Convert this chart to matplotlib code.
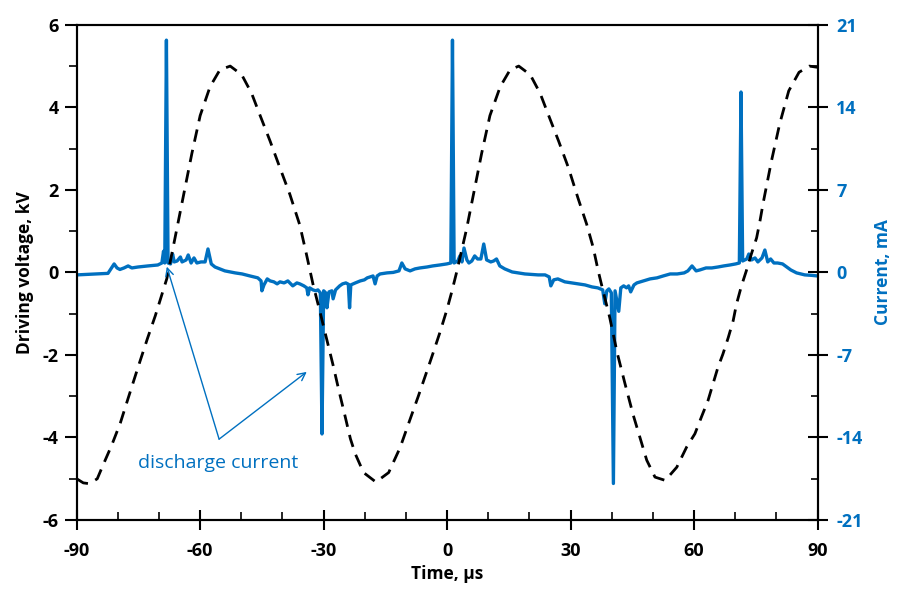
import matplotlib
matplotlib.use('Agg')
import matplotlib.pyplot as plt
from matplotlib.ticker import MultipleLocator

plt.rcParams['font.family'] = ['Open Sans', 'DejaVu Sans']
plt.rcParams['axes.unicode_minus'] = False

BLUE = '#0070C0'

# ----------------------------
# Driving voltage (kV) vs time (us)
# ----------------------------
t_volt = [-90.0, -88.4, -86.9, -85.0, -83.6, -81.5, -79.4, -77.5, -75.1, -72.8,
          -70.9, -69.5, -68.1, -66.1, -64.0, -62.0, -60.0, -57.6, -55.2, -52.7,
          -49.9, -47.5, -45.5, -43.0, -40.6, -38.2, -35.8, -34.2, -32.6, -30.9,
          -29.3, -27.7, -26.3, -24.8, -23.5, -22.3, -20.3, -17.3, -14.2, -11.4,
          -9.0, -7.0, -5.0, -3.4, -1.8, -0.1, 1.1, 2.3, 3.5, 4.7,
          6.4, 8.4, 10.4, 12.9, 15.3, 17.4, 20.2, 22.6, 24.6, 27.1,
          29.5, 31.8, 33.9, 35.5, 36.7, 37.5, 39.5, 41.3, 43.2, 45.2,
          46.4, 48.5, 50.5, 53.0, 55.8, 58.2, 60.2, 61.8, 63.4, 64.6,
          65.8, 67.0, 68.3, 69.5, 70.3, 71.5, 72.7, 73.9, 75.2, 76.0,
          76.8, 78.8, 80.8, 83.0, 85.5, 88.0, 90.0]
volt = [-5.00, -5.10, -5.12, -5.00, -4.67, -4.19, -3.65, -3.05, -2.30, -1.60,
        -1.05, -0.60, -0.15, 0.84, 1.89, 2.89, 3.80, 4.50, 4.91, 5.00,
        4.79, 4.34, 3.82, 3.18, 2.53, 1.89, 1.15, 0.45, -0.28, -0.95,
        -1.60, -2.25, -2.86, -3.48, -4.03, -4.40, -4.85, -5.08, -4.85, -4.24,
        -3.56, -3.00, -2.42, -1.95, -1.47, -0.92, -0.48, 0.00, 0.52, 1.04,
        1.89, 2.89, 3.80, 4.50, 4.91, 5.00, 4.79, 4.34, 3.82, 3.18,
        2.53, 1.80, 1.17, 0.60, 0.04, -0.29, -1.09, -1.94, -2.69, -3.45,
        -3.85, -4.55, -4.96, -5.04, -4.72, -4.23, -3.91, -3.50, -3.10, -2.70,
        -2.30, -1.98, -1.58, -1.17, -0.77, -0.33, 0.04, 0.44, 0.84, 1.24,
        1.69, 2.70, 3.60, 4.40, 4.85, 5.00, 4.97]

# ----------------------------
# Discharge current (mA) vs time (us)
# ----------------------------
t_curr = [-90.0, -85.5, -82.4, -81.7, -80.9, -80.2, -79.5, -78.5, -77.5, -76.6,
          -75.1, -72.7, -70.3, -69.3, -68.9, -68.6, -68.2, -67.8, -67.2, -66.7,
          -66.3, -65.6, -64.8, -64.4, -63.4, -62.9, -62.2, -61.5, -60.8, -59.8,
          -58.8, -58.1, -57.3, -56.4, -54.0, -51.5, -49.8, -47.9, -46.0, -45.2,
          -45.0, -44.5, -43.7, -43.0, -42.1, -41.3, -40.6, -39.6, -38.7, -37.5,
          -36.5, -35.8, -34.8, -34.1, -33.8, -33.4, -32.6, -31.9, -31.4, -30.8,
          -30.4, -30.0, -29.5, -29.2, -28.7, -28.0, -27.7, -27.1, -26.1, -25.4,
          -24.6, -24.0, -23.7, -23.4, -22.3, -21.1, -20.1, -19.4, -18.0, -17.5,
          -17.0, -16.3, -14.6, -13.1, -11.7, -11.0, -10.2, -9.0, -7.8, -6.6,
          -4.9, -3.5, -1.8, -0.1, 0.9, 1.3, 1.7, 2.6, 3.1, 3.6,
          4.1, 4.8, 5.3, 6.0, 6.7, 7.4, 8.2, 8.9, 9.6, 10.6,
          11.3, 12.0, 12.8, 14.0, 15.8, 17.2, 18.9, 20.6, 22.1, 23.8,
          24.8, 25.2, 25.9, 26.9, 28.6, 30.3, 31.8, 33.5, 35.2, 36.6,
          37.8, 38.3, 38.8, 39.3, 39.9, 40.4, 40.8, 41.7, 42.2, 42.9,
          43.6, 44.1, 44.6, 45.4, 46.1, 47.7, 49.3, 51.0, 52.5, 54.2,
          55.9, 57.6, 58.5, 59.5, 60.5, 61.4, 62.9, 64.3, 65.8, 67.2,
          68.7, 70.1, 71.0, 71.4, 71.8, 72.8, 73.3, 74.0, 74.8, 75.5,
          76.5, 77.2, 77.9, 78.6, 79.4, 80.3, 81.5, 82.5, 83.5, 84.9,
          86.9, 88.6, 90.0]
curr = [-0.21, -0.13, -0.08, 0.30, 0.72, 0.38, 0.25, 0.38, 0.55, 0.38,
        0.46, 0.55, 0.63, 0.80, 1.80, 0.80, 19.70, 0.80, 0.72, 1.56,
        0.89, 0.97, 1.31, 0.89, 1.06, 1.48, 0.80, 1.23, 0.80, 0.89,
        0.89, 1.99, 0.72, 0.46, 0.13, -0.04, -0.13, -0.30, -0.46, -0.72,
        -1.56, -1.06, -0.55, -0.72, -0.80, -0.97, -0.80, -0.89, -0.72, -1.14,
        -0.89, -0.97, -1.14, -1.31, -1.90, -1.31, -1.48, -1.56, -1.48, -1.73,
        -13.70, -1.56, -1.73, -3.00, -1.65, -1.56, -2.24, -1.48, -1.14, -0.97,
        -0.89, -1.00, -3.00, -1.06, -0.89, -0.72, -0.63, -0.46, -0.30, -0.97,
        -0.30, -0.13, -0.04, 0.00, 0.13, 0.80, 0.30, 0.13, 0.30, 0.38,
        0.46, 0.55, 0.63, 0.72, 0.80, 19.70, 0.80, 0.97, 1.40, 0.89,
        2.07, 1.06, 0.80, 0.97, 1.40, 1.14, 1.14, 2.41, 1.06, 0.89,
        0.97, 1.14, 0.55, 0.30, 0.04, -0.04, -0.13, -0.17, -0.21, -0.21,
        -0.38, -1.14, -0.63, -0.55, -0.80, -0.89, -0.97, -1.06, -1.23, -1.31,
        -1.48, -2.66, -1.56, -1.40, -1.73, -17.90, -1.56, -3.30, -1.31, -1.14,
        -1.31, -1.14, -1.65, -1.06, -0.89, -0.72, -0.55, -0.46, -0.30, -0.13,
        -0.13, -0.04, 0.13, 0.55, 0.13, 0.21, 0.38, 0.38, 0.46, 0.55,
        0.63, 0.72, 0.80, 15.30, 0.97, 1.14, 1.56, 1.06, 1.23, 0.89,
        1.23, 1.90, 0.89, 1.14, 0.80, 0.80, 0.72, 0.46, 0.21, -0.04,
        -0.21, -0.25, -0.30]

x_ticks = [-90, -60, -30, 0, 30, 60, 90]
v_ticks = [-6, -4, -2, 0, 2, 4, 6]
i_ticks = [-21, -14, -7, 0, 7, 14, 21]

# ----------------------------
# Figure
# ----------------------------
fig = plt.figure(figsize=(8.99, 5.91), dpi=100)
ax = fig.add_axes([0.0853, 0.1201, 0.8241, 0.8379])
ax2 = ax.twinx()

ax2.plot(t_curr, curr, color=BLUE, lw=2.4, solid_joinstyle='round')
ax.plot(t_volt, volt, color='black', lw=2.0, linestyle=(0, (4.5, 3)))

# voltage trace over the current trace
ax.set_zorder(ax2.get_zorder() + 1)
ax.patch.set_visible(False)

ax.set_xlim(-90, 90)
ax.set_ylim(-6, 6)
ax2.set_ylim(-21, 21)

ax.set_xticks(x_ticks)
ax.set_yticks(v_ticks)
ax2.set_yticks(i_ticks)
ax.xaxis.set_minor_locator(MultipleLocator(10))
ax.yaxis.set_minor_locator(MultipleLocator(1))
ax2.yaxis.set_minor_locator(MultipleLocator(3.5))

ax.tick_params(axis='x', which='major', direction='inout', length=15, width=1.5, pad=8)
ax.tick_params(axis='x', which='minor', direction='in', length=6, width=1.2)
ax.tick_params(axis='y', which='major', direction='out', length=9, width=1.5, pad=4)
ax.tick_params(axis='y', which='minor', direction='out', length=6, width=1.2)
ax2.tick_params(axis='y', which='major', direction='inout', length=15, width=1.5,
                pad=6, labelcolor=BLUE)
ax2.tick_params(axis='y', which='minor', direction='in', length=5, width=1.2)

for a in (ax, ax2):
    for s in a.spines.values():
        s.set_linewidth(1.5)
        s.set_color('black')
    for lab in a.get_xticklabels() + a.get_yticklabels():
        lab.set_fontsize(13)
        lab.set_fontweight('bold')

ax.set_xlabel('Time, µs', fontsize=12.5, fontweight='bold', labelpad=4)
ax.set_ylabel('Driving voltage, kV', fontsize=12.5, fontweight='bold', labelpad=6)
ax2.set_ylabel('Current, mA', fontsize=12.5, fontweight='bold', color=BLUE, labelpad=8)

# arrows pointing to discharge spikes
for tip in [(-68.1, 0.14), (-34.1, -2.41)]:
    ax.annotate('', xy=tip, xytext=(-55.4, -4.04),
                arrowprops=dict(arrowstyle='->', color=BLUE, lw=1.0,
                                shrinkA=0, shrinkB=0, mutation_scale=14))
ax.text(-55.7, -4.62, 'discharge current', color=BLUE, fontsize=14,
        ha='center', va='center')

fig.savefig('out.png', dpi=100)
